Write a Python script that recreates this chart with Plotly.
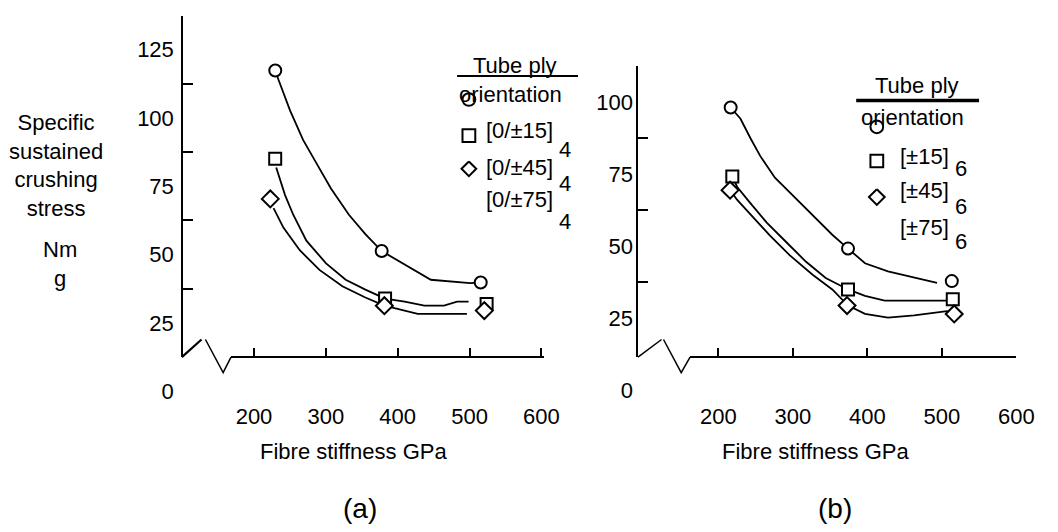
import plotly.graph_objects as go

W, H = 1058, 532
FONT = "Liberation Sans, Arial, sans-serif"

# ---------------- data ----------------
stiffness_ticks = [200, 300, 400, 500, 600]
stress_labels_a = [0, 25, 50, 75, 100, 125]
stress_labels_b = [0, 25, 50, 75, 100]

# (a) [0/±θ]4 tubes: measured points
a_circle_x = [229.6, 377.7, 515.5]
a_circle_y = [117.4, 51.3, 39.8]
a_square_x = [229.5, 382.4, 523.7]
a_square_y = [85.1, 33.9, 31.9]
a_diamond_x = [222.7, 381.4, 520.5]
a_diamond_y = [70.4, 31.3, 29.5]

# (a) hand-drawn trend curves
a_circle_curve_x = [229.6, 234.1, 250.1, 268.3, 286.6, 307.1, 332.1, 355.0, 377.7, 400.5, 446.1, 500.8, 515.5]
a_circle_curve_y = [117.4, 114.0, 102.8, 92.0, 83.6, 74.2, 64.6, 57.5, 51.3, 47.9, 40.8, 39.6, 39.8]
a_square_curve_x = [230.9, 243.2, 254.6, 272.9, 300.3, 327.6, 355.0, 382.4, 409.7, 437.1, 464.4, 482.6, 498.6]
a_square_curve_y = [81.9, 71.8, 64.6, 55.1, 46.8, 40.8, 37.2, 33.9, 32.8, 31.3, 31.3, 32.8, 32.8]
a_diamond_curve_x = [227.2, 240.9, 263.7, 291.1, 323.0, 355.0, 381.4, 400.5, 427.9, 496.3]
a_diamond_curve_y = [67.0, 59.9, 51.6, 44.4, 38.4, 34.3, 31.3, 30.1, 28.3, 28.3]

# (b) [±θ]6 tubes: measured points
b_circle_x = [216.5, 374.0, 513.3]
b_circle_y = [98.2, 49.2, 37.9]
b_square_x = [218.7, 374.0, 514.6]
b_square_y = [74.2, 35.0, 31.6]
b_diamond_x = [215.7, 372.7, 516.5]
b_diamond_y = [69.5, 29.4, 26.5]

# (b) hand-drawn trend curves
b_circle_curve_x = [216.5, 229.7, 242.9, 256.1, 275.9, 300.1, 326.5, 352.9, 374.0, 396.8, 427.6, 462.8, 493.5]
b_circle_curve_y = [98.2, 94.3, 87.6, 81.4, 73.8, 67.6, 60.8, 54.0, 49.2, 44.1, 41.3, 39.2, 37.3]
b_square_curve_x = [218.7, 225.3, 242.9, 264.9, 291.3, 317.7, 344.1, 374.0, 396.8, 423.2, 506.7]
b_square_curve_y = [74.2, 70.6, 65.0, 58.2, 51.4, 44.6, 39.0, 35.0, 32.8, 31.1, 31.1]
b_diamond_curve_x = [215.7, 225.3, 247.4, 269.3, 295.6, 326.5, 352.9, 374.0, 396.8, 427.6, 462.8, 506.7, 516.5]
b_diamond_curve_y = [69.5, 66.1, 59.9, 53.7, 46.9, 40.1, 35.0, 29.4, 26.5, 25.2, 26.0, 27.5, 26.5]

legend_a = ["[0/±15]", "[0/±45]", "[0/±75]"]
legend_b = ["[±15]", "[±45]", "[±75]"]


# ---------------- helpers ----------------
def fx(p):
    return p / W


def fy(p):
    return 1 - p / H


def path(points):
    segs = []
    for run in points:
        s = "M %f,%f" % (fx(run[0][0]), fy(run[0][1]))
        for x, y in run[1:]:
            s += " L %f,%f" % (fx(x), fy(y))
        segs.append(s)
    return " ".join(segs)


fig = go.Figure()


def add_series(cx, cy, mx, my, symbol, msize, xa, ya_curve, ya_mark):
    # curves sit on the labelled axis, markers on the ticked axis (same scale)
    fig.add_trace(go.Scatter(x=cx, y=cy, mode="lines", xaxis=xa, yaxis=ya_curve,
                             line=dict(color="black", width=1.8),
                             showlegend=False, hoverinfo="skip"))
    fig.add_trace(go.Scatter(x=mx, y=my, mode="markers", xaxis=xa, yaxis=ya_mark,
                             marker=dict(symbol=symbol, size=msize, color="white",
                                         line=dict(color="black", width=2)),
                             showlegend=False))


add_series(a_circle_curve_x, a_circle_curve_y, a_circle_x, a_circle_y, "circle", 12, "x", "y", "y3")
add_series(a_square_curve_x, a_square_curve_y, a_square_x, a_square_y, "square", 12, "x", "y", "y3")
add_series(a_diamond_curve_x, a_diamond_curve_y, a_diamond_x, a_diamond_y, "diamond", 13, "x", "y", "y3")
add_series(b_circle_curve_x, b_circle_curve_y, b_circle_x, b_circle_y, "circle", 12, "x2", "y2", "y4")
add_series(b_square_curve_x, b_square_curve_y, b_square_x, b_square_y, "square", 12, "x2", "y2", "y4")
add_series(b_diamond_curve_x, b_diamond_curve_y, b_diamond_x, b_diamond_y, "diamond", 13, "x2", "y2", "y4")

tickfont = dict(family=FONT, size=22, color="black")

xcommon = dict(anchor="free", position=fy(366), showline=True, linewidth=2, linecolor="black",
               ticks="inside", ticklen=8, tickwidth=2, tickcolor="black",
               tickvals=stiffness_ticks, showgrid=False, zeroline=False,
               tickfont=tickfont, ticklabelstandoff=40)
label_axis = dict(anchor="free", showline=False, ticks="", showgrid=False, zeroline=False,
                  tickfont=tickfont)
tick_axis = dict(anchor="free", showline=True, linewidth=2, linecolor="black",
                 ticks="inside", ticklen=10, tickwidth=2, tickcolor="black",
                 showticklabels=False, showgrid=False, zeroline=False)

fig.update_layout(
    width=W, height=H, margin=dict(l=0, r=0, t=0, b=0),
    paper_bgcolor="white", plot_bgcolor="rgba(0,0,0,0)",
    font=dict(family=FONT, size=22, color="black"),
    showlegend=False,
    xaxis=dict(domain=[fx(235), fx(553)], range=[168, 603], **xcommon),
    xaxis2=dict(domain=[fx(702), fx(1034)], range=[162, 600], **xcommon),
    yaxis=dict(domain=[fy(401), fy(16)], range=[0, 137.5], position=fx(185),
               tickvals=stress_labels_a, ticklabelstandoff=8, **label_axis),
    yaxis2=dict(domain=[fy(400), fy(68)], range=[0, 112.5], position=fx(645),
                tickvals=stress_labels_b, ticklabelstandoff=1, **label_axis),
    yaxis3=dict(domain=[fy(366), fy(16)], range=[12.5, 137.5], position=fx(185),
                tickvals=[37.5, 62.5, 87.5, 112.5, 137.5], **tick_axis),
    yaxis4=dict(domain=[fy(366), fy(68)], range=[11.52, 112.5], position=fx(648),
                tickvals=[37.5, 62.5, 87.5, 112.5], **tick_axis),
)

shapes = []
# axis breaks
shapes.append(dict(type="path", xref="paper", yref="paper",
                   path=path([[(185, 366), (205, 348)]]), line=dict(color="black", width=2.2)))
shapes.append(dict(type="path", xref="paper", yref="paper",
                   path=path([[(209, 348), (227, 382), (235, 366)]]), line=dict(color="black", width=1.5)))
shapes.append(dict(type="path", xref="paper", yref="paper",
                   path=path([[(649, 366), (673, 348)]]), line=dict(color="black", width=1.5)))
shapes.append(dict(type="path", xref="paper", yref="paper",
                   path=path([[(675, 348), (693, 382), (702, 366)]]), line=dict(color="black", width=1.5)))

# legend underlines
shapes.append(dict(type="line", xref="paper", yref="paper", x0=fx(465), x1=fx(588), y0=fy(78), y1=fy(78),
                   line=dict(color="black", width=2)))
shapes.append(dict(type="line", xref="paper", yref="paper", x0=fx(871), x1=fx(996), y0=fy(103), y1=fy(103),
                   line=dict(color="black", width=3.5)))


def legend_symbols(cx, ys, r, rd):
    out = []
    cy, sy, dy = ys
    out.append(dict(type="circle", xref="paper", yref="paper",
                    x0=fx(cx - r), x1=fx(cx + r), y0=fy(cy + r), y1=fy(cy - r),
                    line=dict(color="black", width=2), fillcolor="white"))
    out.append(dict(type="rect", xref="paper", yref="paper",
                    x0=fx(cx - r), x1=fx(cx + r), y0=fy(sy + r), y1=fy(sy - r),
                    line=dict(color="black", width=2), fillcolor="white"))
    out.append(dict(type="path", xref="paper", yref="paper",
                    path=path([[(cx, dy - rd), (cx + rd, dy), (cx, dy + rd), (cx - rd, dy), (cx, dy - rd)]]),
                    line=dict(color="black", width=2), fillcolor="white"))
    return out


shapes += legend_symbols(477, (102, 139, 173), 6.5, 7.5)
shapes += legend_symbols(892, (130, 165, 202), 6.5, 8)
fig.update_layout(shapes=shapes)


def text(t, x, y, size=22, align="center"):
    fig.add_annotation(text=t, x=fx(x), y=fy(y), xref="paper", yref="paper",
                       xanchor="center", yanchor="middle", showarrow=False, align=align,
                       font=dict(family=FONT, size=size, color="black"))


# panel (a) legend
text("Tube ply", 524, 67)
text("orientation", 519, 97)
for lbl, y in zip(legend_a, [134, 172, 205]):
    text(lbl, 528, y)
for y in [153, 188, 227]:
    text("4", 575, y)

# panel (b) legend
text("Tube ply", 933, 88)
text("orientation", 928, 120)
for lbl, y in zip(legend_b, [160, 195, 233]):
    text(lbl, 940, y)
for y in [173, 212, 248]:
    text("6", 978, y)

# axis titles and panel tags
text("Specific<br>sustained<br>crushing<br>stress", 57, 170)
text("Nm<br>g", 61, 271)
text("Fibre stiffness GPa", 360, 463)
text("Fibre stiffness GPa", 830, 463)
text("(a)", 366, 521, size=28)
text("(b)", 849, 521, size=28)

fig.write_html("out.html")
